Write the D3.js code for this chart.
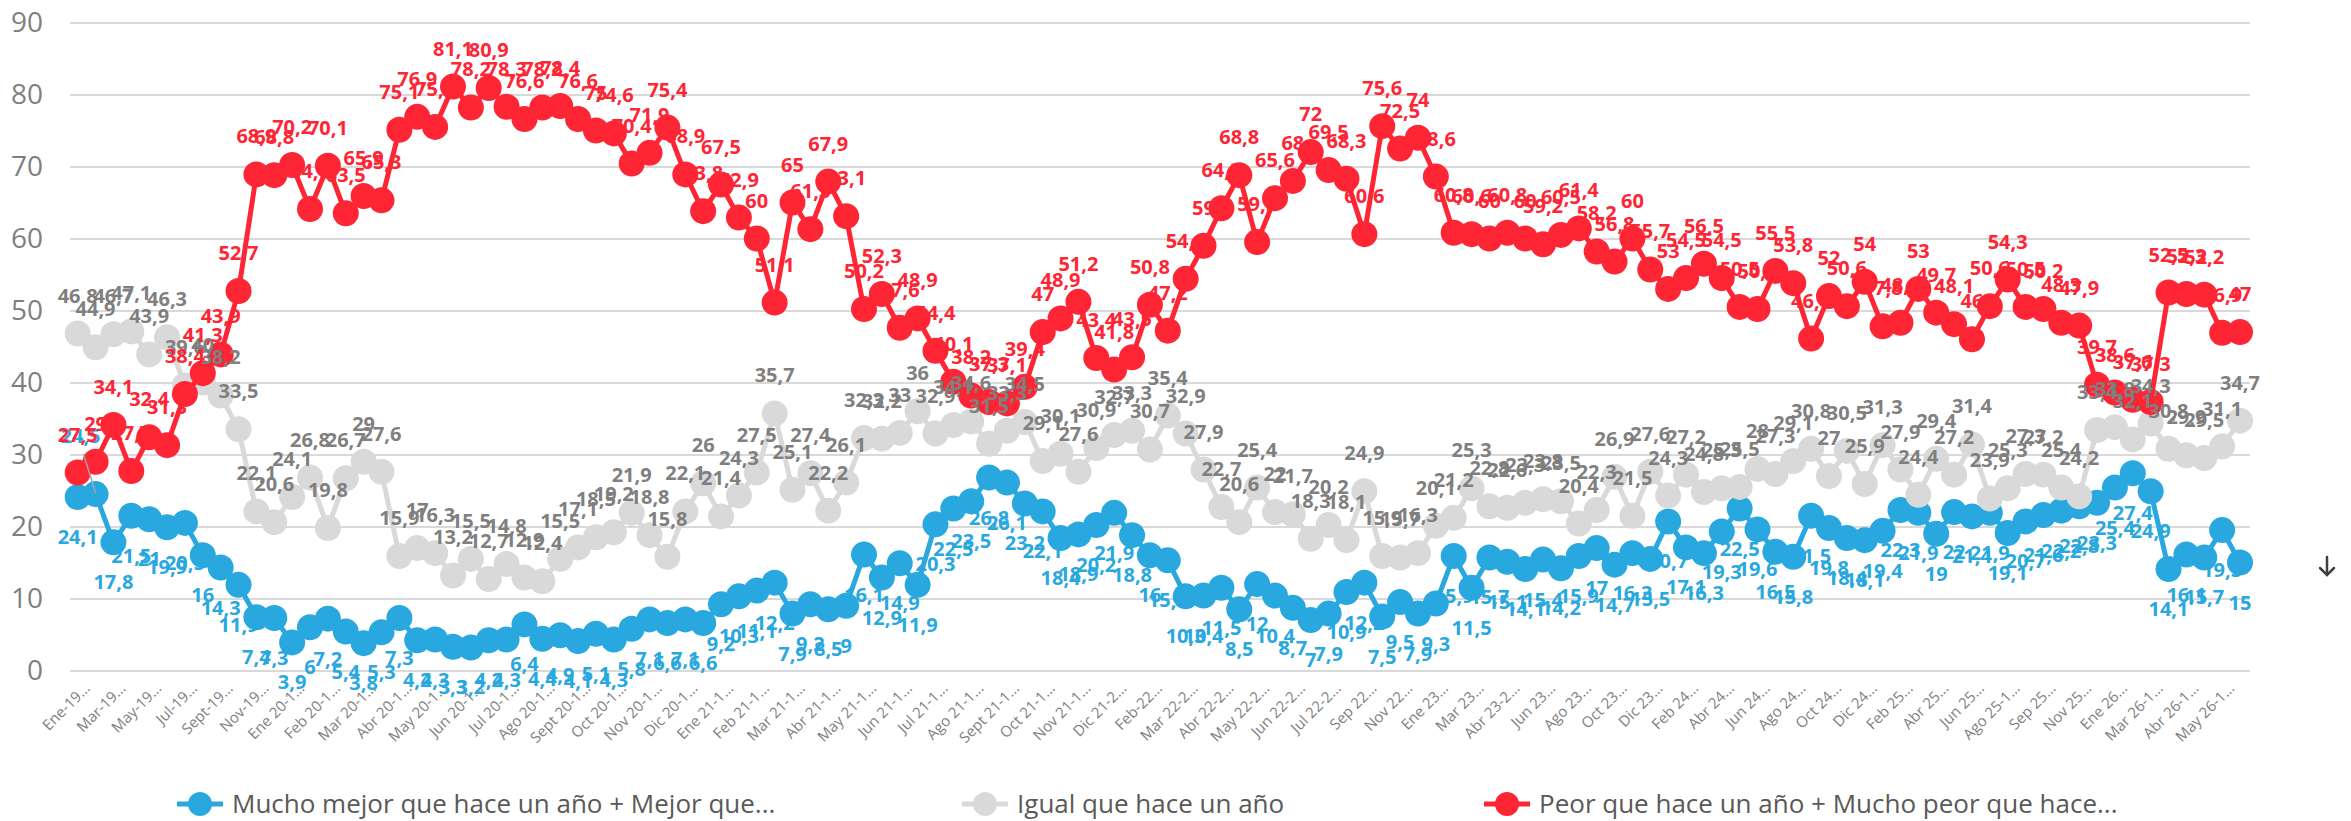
<!DOCTYPE html>
<html><head><meta charset="utf-8">
<script src="https://cdn.jsdelivr.net/npm/d3@7"></script>
<style>
body{margin:0;background:#fff;}
svg{display:block;font-family:"Open Sans",sans-serif;}
</style>
</head><body>
<svg id="chart" width="2351" height="821"></svg>
<script>
const categories = [
 "Ene-19","Feb-19","Mar-19","Abr-19","May-19","Jun-19","Jul-19","Ago-19","Sept-19","Oct-19",
 "Nov-19","Dic-19","Ene 20-1","Ene 20-2","Feb 20-1","Feb 20-2","Mar 20-1","Mar 20-2","Abr 20-1","Abr 20-2",
 "May 20-1","May 20-2","Jun 20-1","Jun 20-2","Jul 20-1","Jul 20-2","Ago 20-1","Ago 20-2","Sept 20-1","Sept 20-2",
 "Oct 20-1","Oct 20-2","Nov 20-1","Nov 20-2","Dic 20-1","Dic 20-2","Ene 21-1","Ene 21-2","Feb 21-1","Feb 21-2",
 "Mar 21-1","Mar 21-2","Abr 21-1","Abr 21-2","May 21-1","May 21-2","Jun 21-1","Jun 21-2","Jul 21-1","Jul 21-2",
 "Ago 21-1","Ago 21-2","Sept 21-1","Sept 21-2","Oct 21-1","Oct 21-2","Nov 21-1","Dic 21-1","Dic 21-2","Ene-22",
 "Feb-22","Mar 22-1","Mar 22-2","Abr 22-1","Abr 22-2","May 22-1","May 22-2","Jun 22-1","Jun 22-2","Jul 22-1",
 "Jul 22-2","Ago 22","Sep 22","Oct 22","Nov 22","Dic 22","Ene 23","Feb 23","Mar 23","Abr 23-1",
 "Abr 23-2","May 23","Jun 23","Jul 23","Ago 23","Sep 23","Oct 23","Nov 23","Dic 23","Ene 24",
 "Feb 24","Mar 24","Abr 24","May 24","Jun 24","Jul 24","Ago 24","Sep 24","Oct 24","Nov 24",
 "Dic 24","Ene 25","Feb 25","Mar 25","Abr 25","May 25","Jun 25","Jul 25","Ago 25-1","Ago 25-2",
 "Sep 25","Oct 25","Nov 25","Dic 25","Ene 26","Feb 26","Mar 26-1","Mar 26-2","Abr 26-1","Abr 26-2",
 "May 26-1","May 26-2"
];

const seriesNames = [
 "Mucho mejor que hace un año + Mejor que...",
 "Igual que hace un año",
 "Peor que hace un año + Mucho peor que hace..."
];

const mejor = [
 24.1,24.5,17.8,21.5,21,19.9,20.5,16,14.3,11.9,
 7.4,7.3,3.9,6,7.2,5.4,3.8,5.3,7.3,4.2,
 4.3,3.3,3.2,4.2,4.3,6.4,4.4,4.9,4.1,5.1,
 4.3,5.8,7.1,6.6,7.1,6.6,9.2,10.3,11.1,12.2,
 7.9,9.2,8.5,9,16.1,12.9,14.9,11.9,20.3,22.5,
 23.5,26.8,26.1,23.2,22.1,18.4,18.9,20.2,21.9,18.8,
 16,15.3,10.3,10.4,11.5,8.5,12,10.4,8.7,7,
 7.9,10.9,12.2,7.5,9.5,7.9,9.3,15.9,11.5,15.7,
 15.1,14.1,15.4,14.2,15.9,17,14.7,16.3,15.5,20.7,
 17.1,16.3,19.3,22.5,19.6,16.5,15.8,21.5,19.8,18.4,
 18.1,19.4,22.3,21.9,19,22,21.4,21.9,19.1,20.7,
 21.6,22.2,22.8,23.3,25.4,27.4,24.9,14.1,16.1,15.7,
 19.5,15
];

const igual = [
 46.8,44.9,46.7,47.1,43.9,46.3,39.6,40,38.2,33.5,
 22.1,20.6,24.1,26.8,19.8,26.7,29,27.6,15.9,17,
 16.3,13.2,15.5,12.7,14.8,12.9,12.4,15.5,17.1,18.5,
 19.2,21.9,18.8,15.8,22.1,26,21.4,24.3,27.5,35.7,
 25.1,27.4,22.2,26.1,32.3,32.2,33,36,32.9,34.1,
 34.6,31.5,33.3,34.5,29.1,30.1,27.6,30.9,32.7,33.3,
 30.7,35.4,32.9,27.9,22.7,20.6,25.4,22,21.7,18.3,
 20.2,18.1,24.9,15.9,15.7,16.3,20.1,21.2,25.3,22.8,
 22.6,23.3,23.8,23.5,20.4,22.3,26.9,21.5,27.6,24.3,
 27.2,24.8,25.3,25.5,28,27.3,29.1,30.8,27,30.5,
 25.9,31.3,27.9,24.4,29.4,27.2,31.4,23.9,25.3,27.3,
 27.2,25.4,24.2,33.4,33.8,32.1,34.3,30.8,29.9,29.5,
 31.1,34.7
];

const peor = [
 27.5,29,34.1,27.7,32.4,31.3,38.4,41.3,43.9,52.7,
 68.9,68.8,70.2,64.1,70.1,63.5,65.9,65.3,75.1,76.9,
 75.5,81.1,78.2,80.9,78.3,76.6,78.2,78.4,76.6,75,
 74.6,70.4,71.9,75.4,68.9,63.8,67.5,62.9,60,51.1,
 65,61.3,67.9,63.1,50.2,52.3,47.6,48.9,44.4,40.1,
 38.2,37.3,37.1,39.4,47,48.9,51.2,43.4,41.8,43.5,
 50.8,47.2,54.4,59,64.2,68.8,59.5,65.6,68,72,
 69.5,68.3,60.6,75.6,72.5,74,68.6,60.8,60.6,60,
 60.8,60,59.2,60.5,61.4,58.2,56.8,60,55.7,53,
 54.5,56.5,54.5,50.5,50.2,55.5,53.8,46.1,52,50.6,
 54,47.8,48.3,53,49.7,48.1,46,50.6,54.3,50.5,
 50.2,48.3,47.9,39.7,38.6,37.6,37.3,52.5,52.3,52.2,
 46.9,47
];

const yTicks = [0,10,20,30,40,50,60,70,80,90];

// ---- layout ----
const svg = d3.select("#chart");
const gridLeft = 70, gridRight = 2250;
const y = d3.scaleLinear().domain([0, 90]).range([670.5, 22.5]);
const x = d3.scalePoint().domain(categories).range([77.7, 2240]);

const series = [
  {key:"mejor", name: seriesNames[0], values: mejor, color:"#29a8e0", labelColor:"#29a8e0", below:true},
  {key:"igual", name: seriesNames[1], values: igual, color:"#d9d9d9", labelColor:"#7f7f7f", below:false},
  {key:"peor",  name: seriesNames[2], values: peor,  color:"#fe2535", labelColor:"#fe2535", below:false}
];

// gridlines + y labels via axis
const yAxis = d3.axisLeft(y).tickValues(yTicks).tickSize(-(gridRight - gridLeft)).tickPadding(27).tickFormat(d3.format("d"));
const gy = svg.append("g").attr("transform", `translate(${gridLeft},0)`).call(yAxis);
gy.select(".domain").remove();
gy.selectAll(".tick line").attr("stroke", "#d9d9d9").attr("stroke-width", 2);
gy.selectAll(".tick text").attr("fill", "#7f7f7f").style("font-size", "28px").style("font-family", "'Open Sans',sans-serif");

// x axis labels (every other category)
const xAxis = d3.axisBottom(x).tickValues(categories.filter((c, i) => i % 2 === 0)).tickSize(0).tickFormat(c => c + "...");
const gx = svg.append("g").attr("transform", `translate(0,${y(0)})`).call(xAxis);
gx.select(".domain").remove();
gx.selectAll(".tick text")
  .attr("x", 0).attr("y", 0).attr("dy", "0.35em")
  .attr("transform", "translate(9,15) rotate(-45)")
  .attr("text-anchor", "end")
  .attr("fill", "#808080")
  .style("font-size", "15px")
  .style("font-family", "'Open Sans',sans-serif");

// lines and markers
const line = d3.line().x((d, i) => x(categories[i])).y(d => y(d));
series.forEach(s => {
  const g = svg.append("g");
  g.append("path").datum(s.values).attr("d", line)
    .attr("fill", "none").attr("stroke", s.color).attr("stroke-width", 5).attr("stroke-linejoin", "round");
  g.selectAll("circle").data(s.values).join("circle")
    .attr("cx", (d, i) => x(categories[i])).attr("cy", d => y(d)).attr("r", 13).attr("fill", s.color);
});

// data labels
const fmt = v => String(v).replace(".", ",");
const special = {"mejor-1": {dx: -15, dy: -51}};
series.forEach(s => {
  const g = svg.append("g");
  s.values.forEach((v, i) => {
    const cx = x(categories[i]), cy = y(v);
    let tx = cx, ty = s.below ? cy + 47 : cy - 31;
    const sp = special[s.key + "-" + i];
    if (sp) {
      tx = cx + sp.dx; ty = cy + sp.dy;
      g.append("line").attr("x1", tx + 3).attr("y1", ty + 11).attr("x2", cx).attr("y2", cy - 1)
        .attr("stroke", "#a6a6a6").attr("stroke-width", 1.5);
    }
    g.append("text").attr("x", tx).attr("y", ty).attr("text-anchor", "middle")
      .attr("fill", s.labelColor).style("font-size", "20px").style("font-weight", "700")
      .text(fmt(v));
  });
});

// legend
const legendItems = [
  {s: series[0], cx: 200},
  {s: series[1], cx: 985},
  {s: series[2], cx: 1507}
];
const lg = svg.append("g");
legendItems.forEach(it => {
  lg.append("line").attr("x1", it.cx - 23).attr("x2", it.cx + 23).attr("y1", 804).attr("y2", 804)
    .attr("stroke", it.s.color).attr("stroke-width", 5);
  lg.append("circle").attr("cx", it.cx).attr("cy", 804).attr("r", 12).attr("fill", it.s.color);
  lg.append("text").attr("x", it.cx + 32).attr("y", 813).attr("fill", "#595959")
    .style("font-size", "26px").text(it.s.name);
});

// down arrow icon at right
const ag = svg.append("g").attr("stroke", "#404040").attr("stroke-width", 2.5).attr("fill", "none").attr("stroke-linecap", "round");
ag.append("line").attr("x1", 2327).attr("y1", 557).attr("x2", 2327).attr("y2", 575);
ag.append("polyline").attr("points", "2320,568 2327,575 2334,568");
</script>
</body></html>
